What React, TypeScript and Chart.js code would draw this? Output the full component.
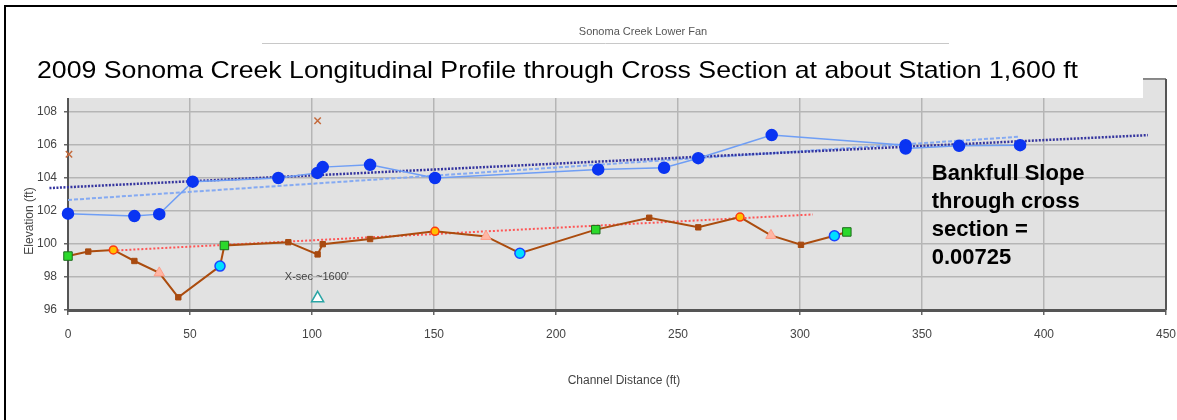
import React, { useEffect, useRef } from "react";
import { Chart, registerables } from "chart.js";

Chart.register(...registerables);

// ---- data ----
const xTicks = [0, 50, 100, 150, 200, 250, 300, 350, 400, 450];

// bankfull elevations (blue)
const bankfullX = [0, 27.2, 37.4, 51.1, 86.2, 102.2, 104.4, 123.8, 150.4, 217.3, 244.3, 258.3, 288.4, 343.3, 343.3, 365.2, 390.2];
const bankfullY = [101.84, 101.69, 101.81, 103.78, 104.0, 104.31, 104.66, 104.8, 104.0, 104.52, 104.62, 105.2, 106.6, 105.99, 105.79, 105.95, 105.99];

// thalweg profile (brown line), split by point type
const thalwegX = [8.3, 27.2, 45.2, 90.3, 102.3, 104.4, 123.8, 238.2, 258.3, 300.4];
const thalwegY = [99.54, 98.97, 96.77, 100.11, 99.37, 99.99, 100.3, 101.59, 101.01, 99.95];
const riffleX = [0, 64.1, 216.3, 319.2];
const riffleY = [99.27, 99.91, 100.87, 100.73];
const waterX = [18.6, 150.4, 275.4];
const waterY = [99.64, 100.77, 101.63];
const runX = [37.4, 171.3, 288.1];
const runY = [98.25, 100.46, 100.52];
const poolX = [62.3, 185.2, 314.1];
const poolY = [98.66, 99.44, 100.5];

// other marks
const terraceX = [0.4, 102.3];
const terraceY = [105.44, 107.47];
const xsecX = [102.3];
const xsecY = [96.71];

// trend lines (end points)
const bankfullSlopeX = [-7.6, 442.6];
const bankfullSlopeY = [103.39, 106.6];
const bankfullTrendX = [0, 389.8];
const bankfullTrendY = [102.67, 106.5];
const thalwegTrendX = [18.6, 305.3];
const thalwegTrendY = [99.6, 101.79];

const titleText = "2009 Sonoma Creek Longitudinal Profile through Cross Section at about Station 1,600 ft";
const headerText = "Sonoma Creek Lower Fan";
const xsecLabel = "X-sec ~1600'";
const slopeLines = ["Bankfull Slope", "through cross", "section =", "0.00725"];

const pts = (xs: number[], ys: number[]) => xs.map((x, i) => ({ x, y: ys[i] }));

const FONT = "'Liberation Sans', Arial, Helvetica, sans-serif";

const decor = {
  id: "decor",
  beforeDraw(chart: any) {
    const { ctx, chartArea: a } = chart;
    ctx.save();
    ctx.fillStyle = "#ffffff";
    ctx.fillRect(0, 0, chart.width, chart.height);
    ctx.fillStyle = "#e2e2e2";
    ctx.fillRect(a.left, a.top, a.right - a.left, a.bottom - a.top);
    ctx.restore();
  },
  afterDraw(chart: any) {
    const { ctx, chartArea: a, scales } = chart;
    const xs = scales.x;
    const ys = scales.y;
    ctx.save();
    // plot border top / right
    ctx.strokeStyle = "#777";
    ctx.lineWidth = 1.5;
    ctx.beginPath();
    ctx.moveTo(a.left, a.top);
    ctx.lineTo(a.right, a.top);
    ctx.stroke();
    ctx.strokeStyle = "#555";
    ctx.lineWidth = 2;
    ctx.beginPath();
    ctx.moveTo(a.right, a.top);
    ctx.lineTo(a.right, a.bottom);
    ctx.stroke();

    // annotations
    ctx.fillStyle = "#444";
    ctx.font = `11px 'Liberation Sans Narrow', 'Liberation Sans', Arial, sans-serif`;
    ctx.textAlign = "center";
    ctx.textBaseline = "middle";
    ctx.fillText(xsecLabel, xs.getPixelForValue(102), ys.getPixelForValue(98.0));

    ctx.fillStyle = "#000";
    ctx.font = `bold 22px ${FONT}`;
    ctx.textAlign = "left";
    ctx.textBaseline = "alphabetic";
    const sx = xs.getPixelForValue(354);
    const sy = ys.getPixelForValue(103.85);
    slopeLines.forEach((t, i) => ctx.fillText(t, sx, sy + i * 27.8));

    // title box
    ctx.fillStyle = "#ffffff";
    ctx.fillRect(30, 50, 1113, 48);
    ctx.fillStyle = "#000";
    ctx.font = `24px ${FONT}`;
    ctx.textAlign = "left";
    ctx.textBaseline = "alphabetic";
    const tw = ctx.measureText(titleText).width;
    ctx.save();
    ctx.translate(37, 78);
    ctx.scale(1041 / tw, 1);
    ctx.fillText(titleText, 0, 0);
    ctx.restore();

    // header
    ctx.fillStyle = "#555";
    ctx.font = `11px ${FONT}`;
    ctx.textAlign = "center";
    ctx.textBaseline = "middle";
    ctx.fillText(headerText, 643, 32);
    ctx.strokeStyle = "#c8c8c8";
    ctx.lineWidth = 1;
    ctx.beginPath();
    ctx.moveTo(262, 43.5);
    ctx.lineTo(949, 43.5);
    ctx.stroke();

    // axis titles
    ctx.fillStyle = "#444";
    ctx.font = `12px ${FONT}`;
    ctx.textAlign = "center";
    ctx.textBaseline = "middle";
    ctx.fillText("Channel Distance (ft)", 624, 381);
    ctx.save();
    ctx.translate(30, 221);
    ctx.rotate(-Math.PI / 2);
    ctx.fillText("Elevation (ft)", 0, 0);
    ctx.restore();

    // outer frame
    ctx.strokeStyle = "#000";
    ctx.lineWidth = 2;
    ctx.beginPath();
    ctx.moveTo(5, 420);
    ctx.lineTo(5, 6);
    ctx.lineTo(1177, 6);
    ctx.stroke();
    ctx.restore();
  },
};

export default function App() {
  const ref = useRef<HTMLCanvasElement | null>(null);
  useEffect(() => {
    if (!ref.current) return;
    const profile = pts(
      [...thalwegX, ...riffleX, ...waterX, ...runX, ...poolX],
      [...thalwegY, ...riffleY, ...waterY, ...runY, ...poolY]
    ).sort((p, q) => p.x - q.x);

    const chart = new Chart(ref.current, {
      type: "scatter",
      data: {
        datasets: [
          {
            label: "X-sec",
            data: pts(xsecX, xsecY),
            pointStyle: "triangle",
            pointRadius: 7,
            backgroundColor: "#ffffff",
            borderColor: "#2aa5a5",
            borderWidth: 1.5,
            order: 0,
            clip: 10,
          },
          {
            label: "Terrace",
            data: pts(terraceX, terraceY),
            pointStyle: "crossRot",
            pointRadius: 4.5,
            borderColor: "#c46a3c",
            borderWidth: 1.5,
            order: 0,
            clip: 10,
          },
          {
            label: "Bankfull",
            data: pts(bankfullX, bankfullY),
            showLine: true,
            borderColor: "#6f9ef5",
            borderWidth: 1.5,
            pointRadius: 5.5,
            pointBackgroundColor: "#0a34f2",
            pointBorderColor: "#0a34f2",
            order: 1,
            clip: 10,
          },
          {
            label: "Riffle",
            data: pts(riffleX, riffleY),
            pointStyle: "rect",
            pointRadius: 6,
            backgroundColor: "#2bd92b",
            borderColor: "#1c6b1c",
            borderWidth: 1,
            order: 0,
            clip: 10,
          },
          {
            label: "Water",
            data: pts(waterX, waterY),
            pointStyle: "circle",
            pointRadius: 4,
            backgroundColor: "#ffc000",
            borderColor: "#ff3a10",
            borderWidth: 1.5,
            order: 0,
            clip: 10,
          },
          {
            label: "Run",
            data: pts(runX, runY),
            pointStyle: "triangle",
            pointRadius: 6,
            backgroundColor: "#ffb6a4",
            borderColor: "#ff9d88",
            borderWidth: 1,
            order: 0,
            clip: 10,
          },
          {
            label: "Pool",
            data: pts(poolX, poolY),
            pointStyle: "circle",
            pointRadius: 5,
            backgroundColor: "#00e0ff",
            borderColor: "#1a44ff",
            borderWidth: 1.5,
            order: 0,
            clip: 10,
          },
          {
            label: "Thalweg points",
            data: pts(thalwegX, thalwegY),
            pointStyle: "rect",
            pointRadius: 3.8,
            backgroundColor: "#a84a10",
            borderColor: "#a84a10",
            order: 2,
            clip: 10,
          },
          {
            label: "Thalweg",
            data: profile,
            showLine: true,
            borderColor: "#ab4c0e",
            borderWidth: 2,
            pointRadius: 0,
            order: 3,
            clip: 10,
          },
          {
            label: "Bankfull slope",
            data: pts(bankfullSlopeX, bankfullSlopeY),
            showLine: true,
            borderColor: "#34349e",
            borderWidth: 2.5,
            borderDash: [2, 1.5],
            pointRadius: 0,
            order: 2,
            clip: false as any,
          },
          {
            label: "Bankfull trend",
            data: pts(bankfullTrendX, bankfullTrendY),
            showLine: true,
            borderColor: "#85aaf2",
            borderWidth: 2,
            borderDash: [4, 2],
            pointRadius: 0,
            order: 4,
          },
          {
            label: "Thalweg trend",
            data: pts(thalwegTrendX, thalwegTrendY),
            showLine: true,
            borderColor: "#ff5555",
            borderWidth: 2,
            borderDash: [2, 2],
            pointRadius: 0,
            order: 4,
          },
        ],
      },
      options: {
        animation: false,
        responsive: false,
        devicePixelRatio: 1,
        events: [],
        layout: { padding: { top: 79, right: 0, left: 0, bottom: 0 } },
        plugins: { legend: { display: false }, title: { display: false }, tooltip: { enabled: false } },
        scales: {
          x: {
            type: "linear",
            min: 0,
            max: 450,
            afterFit: (s: any) => {
              s.height = 110;
              s.paddingRight = 11;
            },
            afterBuildTicks: (s: any) => {
              s.ticks = xTicks.map((v) => ({ value: v }));
            },
            grid: { color: "#b5b5b5", lineWidth: 1.5, tickLength: 5, tickColor: "#666" },
            border: { color: "#555", width: 3 },
            ticks: { color: "#444", font: { family: FONT, size: 12 }, padding: 12, maxRotation: 0 },
          },
          y: {
            type: "linear",
            min: 96,
            max: 110,
            afterFit: (s: any) => {
              s.width = 68;
            },
            grid: { color: "#b5b5b5", lineWidth: 1.5, tickLength: 4, tickColor: "#666" },
            border: { color: "#555", width: 2 },
            ticks: { stepSize: 2, color: "#444", font: { family: FONT, size: 12 }, padding: 7 },
          },
        },
      },
      plugins: [decor],
    } as any);
    return () => chart.destroy();
  }, []);

  return (
    <canvas
      ref={ref}
      width={1177}
      height={420}
      style={{ position: "fixed", left: 0, top: 0, width: 1177, height: 420 }}
    />
  );
}
